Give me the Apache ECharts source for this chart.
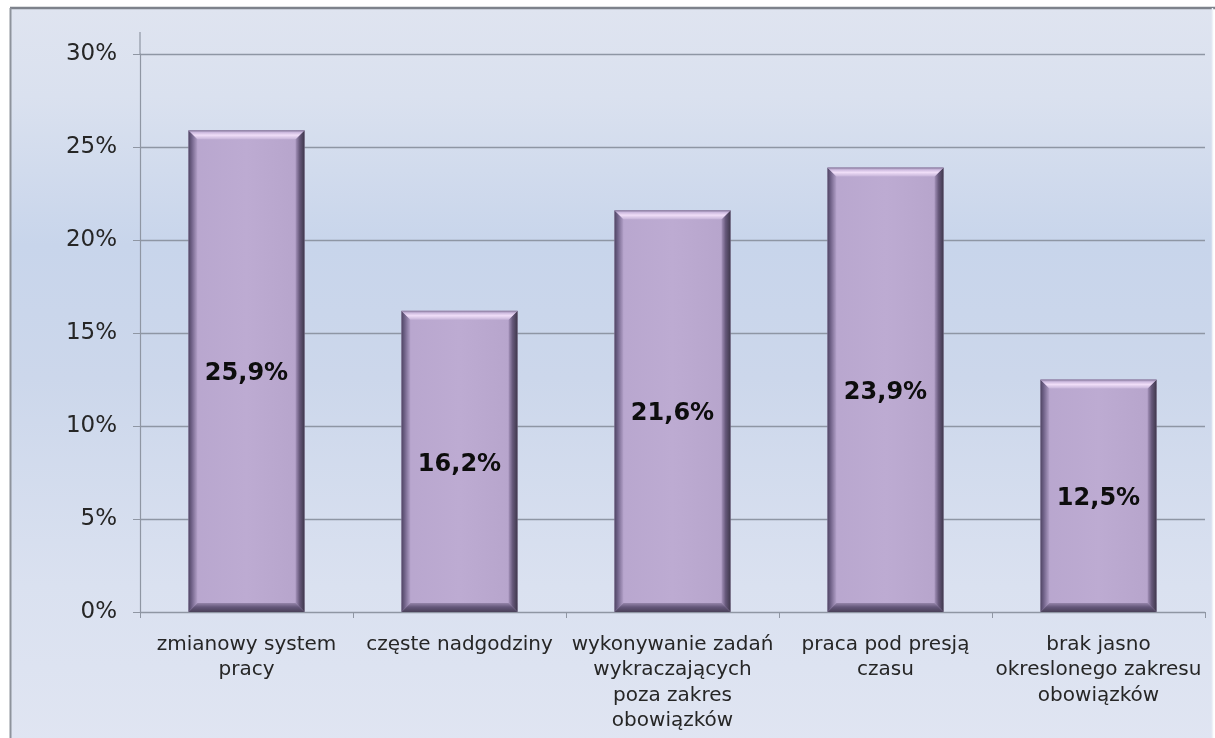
<!DOCTYPE html>
<html>
<head>
<meta charset="utf-8">
<script src="https://cdn.jsdelivr.net/npm/echarts@6/dist/echarts.min.js"></script>
<style>
  html, body { margin: 0; padding: 0; background: #ffffff; }
  #chart { width: 1215px; height: 738px; }
</style>
</head>
<body>
<div id="chart"></div>
<script>
// Categories (line breaks as they wrap under the axis)
const categories = [
  'zmianowy system\npracy',
  'częste nadgodziny',
  'wykonywanie zadań\nwykraczających\npoza zakres\nobowiązków',
  'praca pod presją\nczasu',
  'brak jasno\nokreslonego zakresu\nobowiązków'
];
// Share of responses, in percent
const shares = [25.9, 16.2, 21.6, 23.9, 12.5];
// Value axis ticks
const yMin = 0, yMax = 30, yStep = 5;

const fmt = v => v.toFixed(1).replace('.', ',') + '%';

const chart = echarts.init(document.getElementById('chart'), null, { renderer: 'canvas' });

// Bevelled column drawn from the axis scales
function renderBar(params, api) {
  const idx = api.value(0);
  const val = api.value(1);
  const top = api.coord([idx, val]);
  const base = api.coord([idx, 0]);
  const w = api.size([1, 0])[0] * 0.545;
  const x0 = top[0] - w / 2, x1 = top[0] + w / 2;
  const y0 = top[1], y1 = base[1];
  const b = 9;
  const lin = (x, y, x2, y2, stops) => ({ type: 'linear', x, y, x2, y2, colorStops: stops });
  return {
    type: 'group',
    children: [
      { type: 'rect', shape: { x: x0, y: y0, width: w, height: y1 - y0 },
        style: { fill: lin(0, 0, 1, 0, [
          { offset: 0, color: '#b8a6ce' }, { offset: 0.5, color: '#bdabd2' }, { offset: 1, color: '#b6a4cb' }]) } },
      { type: 'polygon', shape: { points: [[x0, y0], [x0 + b, y0 + b], [x0 + b, y1 - b], [x0, y1]] },
        style: { fill: lin(0, 0, 1, 0, [
          { offset: 0, color: '#4f4563' }, { offset: 0.35, color: '#6f6187' }, { offset: 1, color: '#b3a1c9' }]) } },
      { type: 'polygon', shape: { points: [[x1, y0], [x1, y1], [x1 - b, y1 - b], [x1 - b, y0 + b]] },
        style: { fill: lin(0, 0, 1, 0, [
          { offset: 0, color: '#a593bb' }, { offset: 0.45, color: '#66587a' }, { offset: 1, color: '#3e374b' }]) } },
      { type: 'polygon', shape: { points: [[x0, y0], [x1, y0], [x1 - b, y0 + b], [x0 + b, y0 + b]] },
        style: { fill: lin(0, 0, 0, 1, [
          { offset: 0, color: '#7e7094' }, { offset: 0.25, color: '#cdbadf' }, { offset: 0.55, color: '#f0def8' }, { offset: 1, color: '#c6b4d9' }]) } },
      { type: 'polygon', shape: { points: [[x0, y1], [x1, y1], [x1 - b, y1 - b], [x0 + b, y1 - b]] },
        style: { fill: lin(0, 0, 0, 1, [
          { offset: 0, color: '#9585aa' }, { offset: 0.45, color: '#64577a' }, { offset: 1, color: '#4a4159' }]) } },
      { type: 'text', style: {
          text: fmt(val), x: top[0], y: (y0 + y1) / 2 + 3,
          align: 'center', verticalAlign: 'middle',
          font: 'bold 24px "DejaVu Sans", sans-serif', fill: '#0d0d0d' } }
    ]
  };
}

const option = {
  animation: false,
  backgroundColor: '#ffffff',
  graphic: [
    { type: 'rect', z: -10, silent: true,
      shape: { x: 10, y: 8, width: 1203, height: 740 },
      style: {
        fill: { type: 'linear', x: 0, y: 0, x2: 0, y2: 1, colorStops: [
          { offset: 0, color: '#dfe4f0' },
          { offset: 0.12, color: '#dae1ef' },
          { offset: 0.32, color: '#c8d5eb' },
          { offset: 0.5, color: '#ccd7eb' },
          { offset: 0.78, color: '#dae1f0' },
          { offset: 1, color: '#e0e5f2' }] },
        stroke: null } },
    { type: 'line', z: -9, silent: true, shape: { x1: 10, y1: 8, x2: 1215, y2: 8 },
      style: { stroke: '#7d828b', lineWidth: 2.5 } },
    { type: 'line', z: -9, silent: true, shape: { x1: 10.5, y1: 8, x2: 10.5, y2: 738 },
      style: { stroke: '#8e939c', lineWidth: 2 } },
    { type: 'line', z: -9, silent: true, shape: { x1: 1212.5, y1: 8, x2: 1212.5, y2: 738 },
      style: { stroke: '#eef1f7', lineWidth: 1.5 } },
    { type: 'line', z: -9, silent: true, shape: { x1: 140, y1: 32, x2: 140, y2: 54 },
      style: { stroke: '#8f96a3', lineWidth: 1.2 } }
  ],
  grid: { left: 140, right: 10, top: 54, bottom: 126, containLabel: false },
  xAxis: {
    type: 'category',
    data: categories,
    axisLine: { lineStyle: { color: '#8f96a3', width: 1.2 } },
    axisTick: { show: true, alignWithLabel: false, length: 6, lineStyle: { color: '#8f96a3' } },
    axisLabel: {
      interval: 0, margin: 20, color: '#262626',
      fontFamily: '"DejaVu Sans", sans-serif', fontSize: 20, lineHeight: 25.5, align: 'center'
    },
    splitLine: { show: false }
  },
  yAxis: {
    type: 'value',
    min: yMin, max: yMax, interval: yStep,
    axisLine: { show: true, lineStyle: { color: '#8f96a3', width: 1.2 } },
    axisTick: { show: true, length: 7, lineStyle: { color: '#8f96a3' } },
    axisLabel: {
      formatter: '{value}%', margin: 23, color: '#262626',
      fontFamily: '"DejaVu Sans", sans-serif', fontSize: 23
    },
    splitLine: { show: true, lineStyle: { color: '#8e96a4', width: 1.4 } }
  },
  series: [{
    type: 'custom',
    renderItem: renderBar,
    encode: { x: 0, y: 1 },
    data: shares.map((v, i) => [i, v])
  }]
};

chart.setOption(option);
</script>
</body>
</html>
